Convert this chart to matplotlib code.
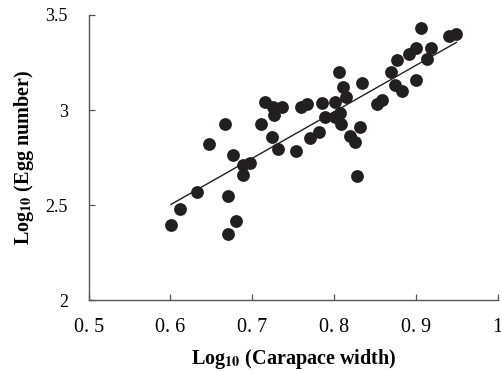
import matplotlib.pyplot as plt
import numpy as np

plt.rcParams['font.family'] = ['Liberation Serif', 'DejaVu Serif']
plt.rcParams['mathtext.fontset'] = 'stix'

# log10 carapace width vs log10 egg number
log_cw = [0.601, 0.612, 0.632, 0.647, 0.667, 0.670, 0.670, 0.676, 0.680, 0.689,
          0.697, 0.689, 0.711, 0.715, 0.725, 0.736, 0.727, 0.724, 0.731, 0.754,
          0.759, 0.767, 0.771, 0.782, 0.785, 0.789, 0.801, 0.801, 0.807, 0.809,
          0.811, 0.815, 0.806, 0.834, 0.819, 0.826, 0.832, 0.828, 0.853, 0.858,
          0.869, 0.874, 0.883, 0.877, 0.892, 0.900, 0.900, 0.913, 0.919, 0.906,
          0.941, 0.949]
log_eggs = [2.395, 2.479, 2.568, 2.821, 2.924, 2.547, 2.347, 2.763, 2.416, 2.708,
            2.721, 2.658, 2.926, 3.042, 3.017, 3.017, 2.976, 2.858, 2.795, 2.784,
            3.017, 3.032, 2.851, 2.882, 3.035, 2.962, 3.041, 2.963, 2.982, 2.928,
            3.119, 3.070, 3.202, 3.141, 2.863, 2.832, 2.908, 2.653, 3.029, 3.050,
            3.202, 3.133, 3.102, 3.263, 3.295, 3.325, 3.158, 3.267, 3.326, 3.434,
            3.392, 3.399]

# regression line end points
fit_x = [0.6006, 0.9496]
fit_y = [2.503, 3.356]

xticks = [0.5, 0.6, 0.7, 0.8, 0.9, 1.0]
xtick_labels = ['0. 5', '0. 6', '0. 7', '0. 8', '0. 9', '1']
yticks = [2, 2.5, 3, 3.5]
ytick_labels = ['2', '2.5', '3', '3.5']

fig = plt.figure(figsize=(5.01, 3.72), dpi=100)
ax = fig.add_axes([0.177, 0.1935, 0.8164, 0.7662])

ax.scatter(log_cw, log_eggs, s=85, color='#231f20', linewidths=0, zorder=3)
ax.plot(fit_x, fit_y, color='#231f20', lw=1.0, zorder=2)

ax.set_xlim(0.5, 1.0)
ax.set_ylim(2, 3.5)
ax.set_xticks(xticks)
ax.set_xticklabels(xtick_labels, fontsize=14.5)
ax.set_yticks(yticks)
ax.set_yticklabels(ytick_labels, fontsize=13)
ax.tick_params(direction='in', length=4, width=0.9, color='#555555')
ax.tick_params(axis='x', pad=13)
ax.tick_params(axis='y', pad=15)

for side in ['top', 'right']:
    ax.spines[side].set_visible(False)
for side in ['left', 'bottom']:
    ax.spines[side].set_color('#555555')
    ax.spines[side].set_linewidth(1.0)

ax.set_xlabel(r'Log$_{\mathbf{10}}$ (Carapace width)', fontsize=14.5,
              fontweight='bold', labelpad=7)
ax.set_ylabel(r'Log$_{\mathbf{10}}$ (Egg number)', fontsize=14.5,
              fontweight='bold', labelpad=7)

fig.savefig('out.png', dpi=100)
